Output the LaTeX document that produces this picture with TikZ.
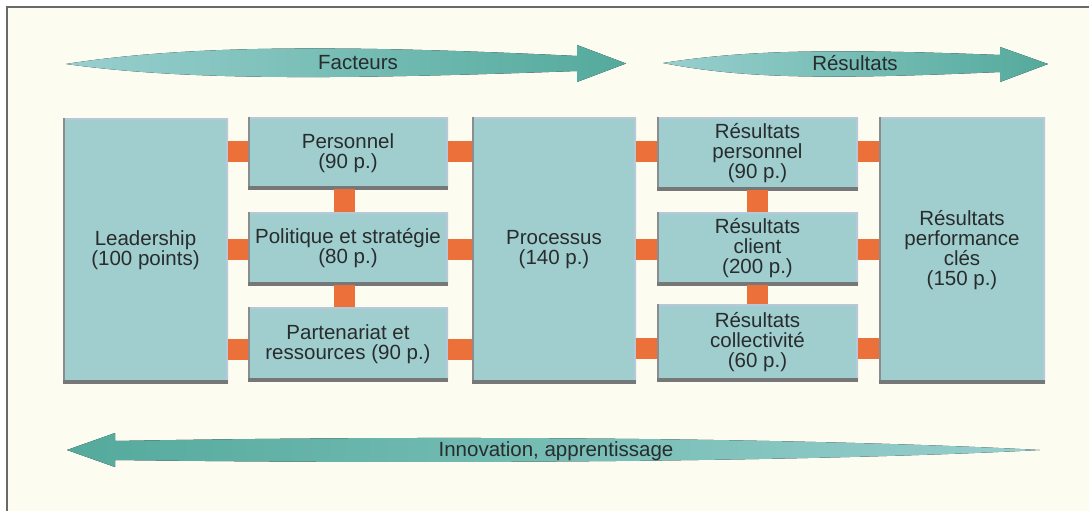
\documentclass[tikz,border=0pt]{standalone}
\usepackage{fontspec}
\setmainfont{Liberation Sans}

\definecolor{paper}{RGB}{252,252,240}
\definecolor{framegray}{RGB}{105,105,105}
\definecolor{boxfill}{RGB}{160,205,206}
\definecolor{edgelight}{RGB}{185,200,216}
\definecolor{edgedark}{RGB}{138,140,142}
\definecolor{linkorange}{RGB}{236,112,58}
\definecolor{arrowlight}{RGB}{152,207,206}
\definecolor{arrowdark}{RGB}{84,170,156}
\definecolor{textgray}{RGB}{40,44,44}

\newcommand\diagfont{\fontsize{20.5}{20}\selectfont}

\tikzset{
    box/.style={rectangle, inner sep=0pt, fill=boxfill, text=textgray, align=center, font=\diagfont,
        path picture={
            \draw [edgelight, line width=4pt] (path picture bounding box.south east) -- (path picture bounding box.north east) -- (path picture bounding box.north west);
            \draw [edgedark, line width=4pt] (path picture bounding box.north west) -- (path picture bounding box.south west);
            \draw [edgedark!85!black, line width=6pt] (path picture bounding box.south west) -- (path picture bounding box.south east);
        }},
    link/.style={draw=linkorange, line width=21pt},
    arrowtext/.style={text=textgray, font=\diagfont, inner sep=0pt}
}

\begin{document}
\begin{tikzpicture}[x=1pt,y=-1pt]
    \useasboundingbox (0,0) rectangle (1089,511);
    \fill [paper] (7,7) rectangle (1089,511);
    \draw [framegray, line width=1.5pt] (7,511) -- (7,7) -- (1089,7);

    \fill [left color=arrowlight, right color=arrowdark] (66,64) .. controls (180,46) and (330,44) .. (577,56) -- (577,45) -- (626,63.5) -- (577,82) -- (577,71) .. controls (330,80) and (180,80) .. (66,64) -- cycle;
    \fill [left color=arrowlight, right color=arrowdark] (663,63) .. controls (740,51) and (820,48) .. (1000,55) -- (1000,47) -- (1048,64) -- (1000,82) -- (1000,72) .. controls (820,80) and (740,78) .. (663,63) -- cycle;
    \fill [left color=arrowdark, right color=arrowlight] (67,450) -- (115,433) -- (115,441) .. controls (500,434) and (850,440) .. (1040,450) .. controls (850,460) and (500,465) .. (115,460) -- (115,467) -- cycle;

    \node [arrowtext] (facteurs) at (358,63) {Facteurs};
    \node [arrowtext] (resultats) at (855,63) {Résultats};
    \node [arrowtext] (innov) at (556,451) {Innovation, apprentissage};

    \node [box, minimum width=165pt, minimum height=265pt] (lead) at (145.5,250.5) {Leadership\\(100 points)};
    \node [box, minimum width=200pt, minimum height=72pt] (pers) at (348,153) {Personnel\\(90 p.)};
    \node [box, minimum width=200pt, minimum height=73pt] (poli) at (348,248.5) {Politique et stratégie\\(80 p.)};
    \node [box, minimum width=200pt, minimum height=74pt] (part) at (348,344) {Partenariat et\\ressources (90 p.)};
    \node [box, minimum width=164pt, minimum height=266pt] (proc) at (554,250) {Processus\\(140 p.)};
    \node [box, minimum width=201pt, minimum height=73pt] (rpers) at (757.5,153.5) {Résultats\\personnel\\(90 p.)};
    \node [box, minimum width=201pt, minimum height=73pt] (rcli) at (757.5,248.5) {Résultats\\client\\(200 p.)};
    \node [box, minimum width=201pt, minimum height=77pt] (rcoll) at (757.5,342.5) {Résultats\\collectivité\\(60 p.)};
    \node [box, minimum width=166pt, minimum height=266pt] (rperf) at (962,250) {Résultats\\performance\\clés\\(150 p.)};

    \foreach \a/\b in {pers/poli, poli/part} {
        \draw [link] ([xshift=-4pt]\a.south) -- ([xshift=-4pt]\b.north);
    }
    \foreach \a/\b in {rpers/rcli, rcli/rcoll} {
        \draw [link] (\a.south) -- (\b.north);
    }
    \foreach \b/\s in {pers/2, poli/-1, part/-5} {
        \draw [link] ([yshift=\s pt]lead.east |- \b.west) -- ([yshift=\s pt]\b.west);
        \draw [link] ([yshift=\s pt]\b.east) -- ([yshift=\s pt]proc.west |- \b.east);
    }
    \foreach \b/\s in {rpers/2, rcli/-1, rcoll/-6} {
        \draw [link] ([yshift=\s pt]proc.east |- \b.west) -- ([yshift=\s pt]\b.west);
        \draw [link] ([yshift=\s pt]\b.east) -- ([yshift=\s pt]rperf.west |- \b.east);
    }
\end{tikzpicture}
\end{document}
